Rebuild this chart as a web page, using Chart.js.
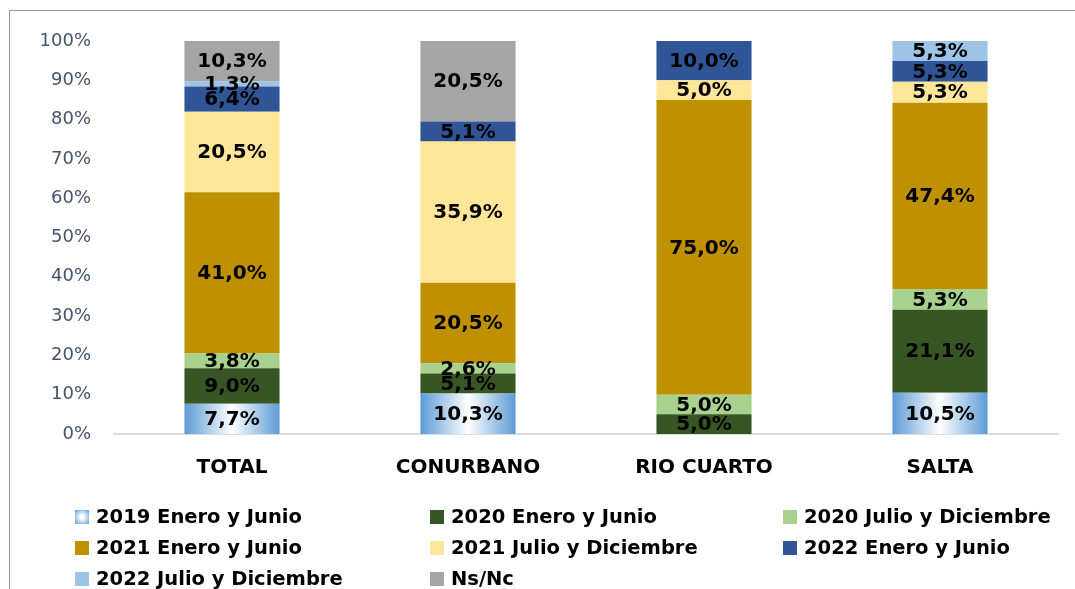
<!DOCTYPE html>
<html>
<head>
<meta charset="utf-8">
<script src="https://cdn.jsdelivr.net/npm/chart.js@4/dist/chart.umd.min.js"></script>
<style>
  html, body { margin: 0; padding: 0; background: #fff; overflow: hidden; }
  #wrap { position: relative; width: 1075px; height: 589px; overflow: hidden; }
  #frame { position: absolute; left: 9px; top: 10px; width: 1200px; height: 700px;
           border-left: 1px solid #9a9a9a; border-top: 1px solid #9a9a9a; }
  canvas { position: absolute; left: 0; top: 0; }
  .leg { position: absolute; font: bold 19.5px "DejaVu Sans", sans-serif; color: #000;
         white-space: nowrap; line-height: 24px; }
  .leg i { display: inline-block; width: 14px; height: 14px; margin-right: 7px;
           vertical-align: -1px; }
</style>
</head>
<body>
<div id="wrap">
  <div id="frame"></div>
  <canvas id="chart" width="1075" height="589"></canvas>
  <div id="legend"></div>
</div>
<script>
// categories and series (percent)
const categories = ["TOTAL", "CONURBANO", "RIO CUARTO", "SALTA"];
const seriesNames = [
  "2019 Enero y Junio",
  "2020 Enero y Junio",
  "2020 Julio y Diciembre",
  "2021 Enero y Junio",
  "2021 Julio y Diciembre",
  "2022 Enero y Junio",
  "2022 Julio y Diciembre",
  "Ns/Nc",
];
const ene2019 = [7.7, 10.3, 0, 10.5];
const ene2020 = [9.0, 5.1, 5.0, 21.1];
const jul2020 = [3.8, 2.6, 5.0, 5.3];
const ene2021 = [41.0, 20.5, 75.0, 47.4];
const jul2021 = [20.5, 35.9, 5.0, 5.3];
const ene2022 = [6.4, 5.1, 10.0, 5.3];
const jul2022 = [1.3, 0, 0, 5.3];
const nsnc = [10.3, 20.5, 0, 0];
const yTicks = [0, 10, 20, 30, 40, 50, 60, 70, 80, 90, 100];

const seriesValues = [ene2019, ene2020, jul2020, ene2021, jul2021, ene2022, jul2022, nsnc];
const colors = ["#5b9bd5", "#375623", "#a9d18e", "#bf9000", "#ffe699", "#2f5597", "#9dc3e6", "#a5a5a5"];

const BAR_PCT = 0.403;

// 2019 series uses a blue -> white -> blue fill like the original
function gradientFill(ctx) {
  const chart = ctx.chart;
  const xs = chart.scales.x;
  if (ctx.type !== "data" || !xs || !chart.chartArea) return colors[0];
  const cx = xs.getPixelForValue(ctx.dataIndex);
  const half = (xs.width / categories.length) * BAR_PCT / 2;
  const g = chart.ctx.createLinearGradient(cx - half, 0, cx + half, 0);
  g.addColorStop(0, "#5b9bd5");
  g.addColorStop(0.5, "#ffffff");
  g.addColorStop(1, "#5b9bd5");
  return g;
}

const datasets = seriesNames.map((name, i) => ({
  label: name,
  data: seriesValues[i],
  backgroundColor: i === 0 ? gradientFill : colors[i],
  borderWidth: 0,
  barPercentage: BAR_PCT,
  categoryPercentage: 1,
}));

// value labels in the middle of each segment
const valueLabels = {
  id: "valueLabels",
  afterDatasetsDraw(chart) {
    const c = chart.ctx;
    c.save();
    c.font = "bold 20px 'DejaVu Sans'";
    c.fillStyle = "#000";
    c.textAlign = "center";
    c.textBaseline = "middle";
    chart.data.datasets.forEach((ds, di) => {
      const meta = chart.getDatasetMeta(di);
      meta.data.forEach((el, idx) => {
        const v = ds.data[idx];
        if (!v) return;
        const txt = v.toFixed(1).replace(".", ",") + "%";
        c.fillText(txt, el.x, (el.y + el.base) / 2 + 1);
      });
    });
    c.restore();
  },
};

new Chart(document.getElementById("chart"), {
  type: "bar",
  data: { labels: categories, datasets: datasets },
  options: {
    responsive: false,
    animation: false,
    events: [],
    layout: { padding: { top: 41, right: 17, left: 0, bottom: 0 } },
    plugins: { legend: { display: false }, tooltip: { enabled: false } },
    scales: {
      x: {
        stacked: true,
        grid: { display: false, drawTicks: false },
        border: { color: "#d9dde3", width: 2 },
        ticks: {
          padding: 22,
          color: "#000",
          font: { family: "DejaVu Sans", size: 20, weight: "bold" },
        },
        afterFit(scale) { scale.height = 155; },
      },
      y: {
        stacked: true,
        min: 0,
        max: 100,
        grid: { display: false, drawTicks: false },
        border: { display: false },
        afterBuildTicks(scale) { scale.ticks = yTicks.map((v) => ({ value: v })); },
        ticks: {
          padding: 23,
          color: "#44546a",
          font: { family: "DejaVu Sans", size: 18 },
          callback: (v) => v + "%",
        },
        afterFit(scale) { scale.width = 114; },
      },
    },
  },
  plugins: [valueLabels],
});

// legend in three columns
const legendPos = [
  [75, 517], [430, 517], [783, 517],
  [75, 548], [430, 548], [783, 548],
  [75, 579], [430, 579],
];
const legend = document.getElementById("legend");
seriesNames.forEach((name, i) => {
  const d = document.createElement("div");
  d.className = "leg";
  d.style.left = legendPos[i][0] + "px";
  d.style.top = (legendPos[i][1] - 12) + "px";
  const sw = document.createElement("i");
  sw.style.background = i === 0
    ? "radial-gradient(circle, #ffffff 20%, #5b9bd5 100%)"
    : colors[i];
  d.appendChild(sw);
  d.appendChild(document.createTextNode(name));
  legend.appendChild(d);
});
</script>
</body>
</html>
